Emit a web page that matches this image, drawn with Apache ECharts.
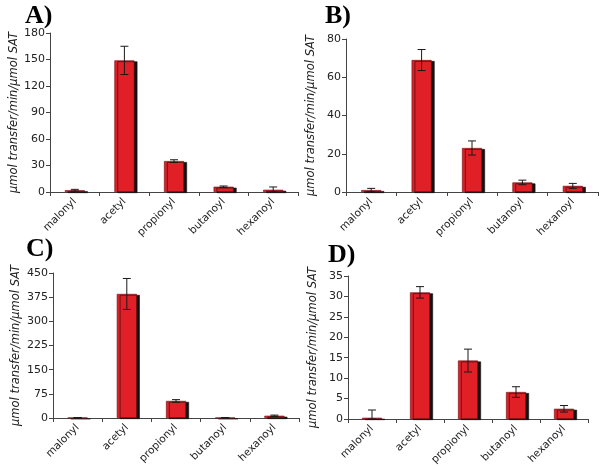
<!DOCTYPE html>
<html>
<head>
<meta charset="utf-8">
<script src="https://cdn.jsdelivr.net/npm/echarts@6/dist/echarts.min.js"></script>
<style>
html,body{margin:0;padding:0;background:#fff;}
#chart{width:600px;height:469px;}
</style>
</head>
<body>
<div id="chart"></div>
<script>
// ---- data ----
const categories = ['malonyl', 'acetyl', 'propionyl', 'butanoyl', 'hexanoyl'];
const panelLabels = ['A)', 'B)', 'C)', 'D)'];
const yAxisName = 'µmol transfer/min/µmol SAT';

const valuesA = [2, 149, 35, 6, 2.5];
const errorsA = [1, 16, 1.5, 0.8, 3.2];
const valuesB = [1, 69, 23, 5, 3.2];
const errorsB = [0.9, 5.5, 3.7, 1.2, 1.3];
const valuesC = [1, 385, 53, 1, 7];
const errorsC = [0.5, 48, 4, 0.5, 2];
const valuesD = [0.3, 31, 14.3, 6.6, 2.5];
const errorsD = [1.9, 1.4, 2.8, 1.3, 0.8];

const yMax = [180, 80, 450, 35];
const yStep = [30, 20, 75, 5];

// ---- layout ----
const grids = [
  {left: 50, top: 33, width: 248, height: 159},
  {left: 346, top: 39, width: 252, height: 153},
  {left: 53, top: 273, width: 246, height: 145},
  {left: 348, top: 276, width: 240, height: 143}
];
const titlePos = [
  {left: 25, top: 3},
  {left: 325, top: 3},
  {left: 26, top: 236},
  {left: 328, top: 242}
];
const nameGaps = [30, 29, 31, 29];

const valueSets = [valuesA, valuesB, valuesC, valuesD];
const errorSets = [errorsA, errorsB, errorsC, errorsD];

const axisColor = '#444';
const textColor = '#222';

const option = {
  backgroundColor: '#fff',
  animation: false,
  title: panelLabels.map((t, i) => ({
    text: t,
    left: titlePos[i].left,
    top: titlePos[i].top,
    padding: 0,
    textStyle: {fontFamily: 'Liberation Serif', fontWeight: 'bold', fontSize: 26, color: '#000'}
  })),
  grid: grids.map(g => Object.assign({containLabel: false}, g)),
  xAxis: grids.map((g, i) => ({
    type: 'category',
    gridIndex: i,
    data: categories,
    axisLine: {lineStyle: {color: axisColor, width: 1}},
    axisTick: {show: true, length: 4, alignWithLabel: false, lineStyle: {color: axisColor}},
    axisLabel: {rotate: 45, interval: 0, fontFamily: 'DejaVu Sans', fontSize: 10.5, color: textColor, margin: 8},
    splitLine: {show: false}
  })),
  yAxis: grids.map((g, i) => ({
    type: 'value',
    gridIndex: i,
    min: 0,
    max: yMax[i],
    interval: yStep[i],
    name: yAxisName,
    nameLocation: 'middle',
    nameGap: nameGaps[i],
    nameTextStyle: {fontFamily: 'DejaVu Sans', fontStyle: 'italic', fontSize: 11.5, color: textColor},
    axisLine: {show: true, lineStyle: {color: axisColor, width: 1}},
    axisTick: {show: true, length: 4, lineStyle: {color: axisColor}},
    axisLabel: {fontFamily: 'DejaVu Sans', fontSize: 11, color: textColor, margin: 5},
    splitLine: {show: false}
  })),
  series: []
};

valueSets.forEach((vals, i) => {
  option.series.push({
    type: 'bar',
    xAxisIndex: i,
    yAxisIndex: i,
    data: vals,
    barWidth: 20,
    itemStyle: {
      color: '#e01f27',
      borderColor: '#6b0d0d',
      borderWidth: 0.6,
      shadowColor: '#111',
      shadowOffsetX: 3,
      shadowOffsetY: 1,
      shadowBlur: 0
    }
  });
  const errs = errorSets[i];
  option.series.push({
    type: 'custom',
    xAxisIndex: i,
    yAxisIndex: i,
    z: 10,
    data: vals.map((v, k) => [k, v, errs[k]]),
    renderItem: function (params, api) {
      const x = api.value(0), v = api.value(1), e = api.value(2);
      const top = api.coord([x, v + e]);
      const bot = api.coord([x, Math.max(0, v - e)]);
      const hw = 4;
      const st = {stroke: '#1a1a1a', lineWidth: 1};
      return {
        type: 'group',
        children: [
          {type: 'line', shape: {x1: top[0], y1: top[1], x2: bot[0], y2: bot[1]}, style: st},
          {type: 'line', shape: {x1: top[0] - hw, y1: top[1], x2: top[0] + hw, y2: top[1]}, style: st},
          {type: 'line', shape: {x1: bot[0] - hw, y1: bot[1], x2: bot[0] + hw, y2: bot[1]}, style: st}
        ]
      };
    }
  });
});

const chart = echarts.init(document.getElementById('chart'), null, {renderer: 'canvas'});
chart.setOption(option);
</script>
</body>
</html>
